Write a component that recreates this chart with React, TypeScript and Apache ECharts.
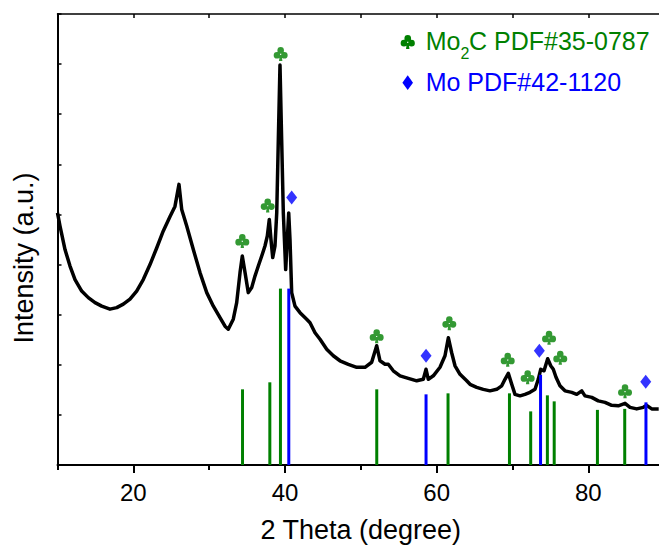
import React, { useEffect, useRef } from "react";
import * as echarts from "echarts";

// ---- data ----
const twoTheta = [
  10.0, 10.33, 10.99, 11.65, 12.31, 13.19, 14.06, 14.95, 15.83, 16.92, 17.81, 18.68, 19.56, 20.44,
  21.31, 22.2, 23.08, 23.95, 24.84, 25.49, 26.02, 26.38, 27.04, 27.91, 28.79, 29.68, 30.55, 31.43,
  32.09, 32.52, 33.18, 33.63, 34.07, 34.37, 34.73, 35.16, 35.61, 36.04, 36.48, 36.93, 37.36, 37.67,
  37.93, 38.15, 38.38, 38.68, 38.91, 39.12, 39.34, 39.56, 39.78, 40.09, 40.3, 40.49, 40.66, 40.88,
  41.32, 41.98, 42.86, 43.3, 43.96, 44.62, 45.5, 46.37, 47.25, 48.35, 49.46, 50.55, 51.43, 52.09,
  52.53, 53.19, 53.62, 54.28, 55.17, 56.26, 57.37, 58.24, 58.6, 58.9, 59.56, 60.44, 61.1, 61.54,
  61.98, 62.42, 63.08, 63.96, 64.4, 65.28, 66.15, 67.03, 67.92, 68.58, 69.01, 69.45, 69.9, 70.33,
  70.99, 71.65, 72.31, 72.97, 73.4, 73.72, 74.16, 74.64, 75.04, 75.38, 75.74, 76.26, 76.92, 77.81,
  78.47, 79.13, 79.56, 80.45, 81.31, 82.2, 83.08, 83.95, 84.84, 85.5, 86.38, 87.25, 87.69, 88.36,
  89.28,
];
const intensity = [
  5.03, 4.77, 4.3, 3.97, 3.7, 3.47, 3.34, 3.24, 3.17, 3.11, 3.14, 3.21, 3.31, 3.47,
  3.7, 4.0, 4.33, 4.67, 4.96, 5.16, 5.6, 5.1, 4.77, 4.3, 3.84, 3.44, 3.17, 2.94,
  2.77, 2.71, 2.91, 3.24, 3.84, 4.17, 3.84, 3.44, 3.54, 3.77, 3.97, 4.17, 4.37, 4.57,
  4.9, 4.5, 4.14, 4.37, 5.03, 6.49, 7.98, 6.49, 5.03, 3.9, 4.5, 5.03, 4.5, 3.44,
  3.17, 3.04, 2.91, 2.84, 2.64, 2.51, 2.31, 2.18, 2.08, 2.01, 1.95, 1.95, 2.05, 2.38,
  2.08, 2.01, 2.01, 1.88, 1.78, 1.73, 1.68, 1.71, 1.91, 1.71, 1.78, 1.95, 2.18, 2.54,
  2.24, 1.98, 1.81, 1.68, 1.61, 1.55, 1.51, 1.48, 1.51, 1.58, 1.71, 1.83, 1.61, 1.41,
  1.38, 1.41, 1.45, 1.51, 1.71, 1.91, 1.88, 2.12, 1.98, 1.91, 1.75, 1.58, 1.48, 1.45,
  1.41, 1.48, 1.38, 1.35, 1.28, 1.25, 1.19, 1.18, 1.23, 1.15, 1.12, 1.15, 1.19, 1.12,
  1.12,
];

// reference sticks (PDF cards)
const mo2cPos = [34.4, 38.0, 39.4, 52.1, 61.5, 69.6, 72.4, 74.6, 75.5, 81.2, 84.8];
const mo2cRel = [1.51, 1.65, 3.52, 1.51, 1.43, 1.43, 1.07, 1.39, 1.27, 1.1, 1.12];
const moPos = [40.5, 58.6, 73.7, 87.6];
const moRel = [3.52, 1.41, 1.8, 1.25];

// peak markers
const clubX = [34.37, 37.72, 39.43, 52.09, 61.67, 69.37, 72.0, 74.82, 76.3, 84.84];
const clubY = [4.47, 5.18, 8.2, 2.57, 2.83, 2.1, 1.75, 2.54, 2.14, 1.47];
const diamondX = [40.88, 58.6, 73.54, 87.57];
const diamondY = [5.34, 2.18, 2.28, 1.66];

// axis range (the reference is cropped at the right, just before 90)
const xMin = 10;
const xMax = 89.32;
const yMin = 0;
const yMax = 9;
const xMajorTicks = [20, 40, 60, 80];
const xMinorTicks = [10, 30, 50, 70];
const xTopTicks = [20, 30, 40, 50, 60, 70, 80];

const xTitle = "2 Theta (degree)";
const yTitle = "Intensity (a.u.)";
const legendMo2C = ["Mo", "2", "C PDF#35-0787"];
const legendMo = "Mo PDF#42-1120";

// ---- styles ----
const FONT = "'Liberation Sans', Arial, sans-serif";
const GREEN = "#008000";
const BLUE = "#0000ff";
const CLUB_D =
  "M27,27 A23,23 0 1,0 73,27 A23,23 0 1,0 27,27 Z " +
  "M1,60 A23,23 0 1,0 47,60 A23,23 0 1,0 1,60 Z " +
  "M53,60 A23,23 0 1,0 99,60 A23,23 0 1,0 53,60 Z " +
  "M44,58 L38,100 L62,100 L56,58 Z";
const DIAMOND_D = "M50,0 L0,50 L50,100 L100,50 Z";

let registered = false;
function registerShapes() {
  if (registered) return;
  echarts.graphic.registerShape("club", echarts.graphic.extendPath(CLUB_D, {}));
  registered = true;
}

function stickSeries(pos: number[], rel: number[], color: string) {
  return {
    type: "custom",
    xAxisIndex: 0,
    yAxisIndex: 0,
    z: 5,
    data: pos.map((p, i) => [p, rel[i]]),
    encode: { x: 0, y: 1 },
    renderItem: (_params: any, api: any) => {
      const a = api.coord([api.value(0), 0]);
      const b = api.coord([api.value(0), api.value(1)]);
      return {
        type: "line",
        shape: { x1: a[0], y1: a[1], x2: b[0], y2: b[1] },
        style: { stroke: color, lineWidth: 3 },
      };
    },
  };
}

export default function App() {
  const ref = useRef<HTMLDivElement>(null);
  useEffect(() => {
    if (!ref.current) return;
    registerShapes();
    const chart = echarts.init(ref.current, undefined, { renderer: "svg" });
    const textBase = { fontFamily: FONT, color: "#000" };
    chart.setOption({
      animation: false,
      backgroundColor: "#fff",
      grid: { left: 57.5, top: 14, right: 0, bottom: 82, containLabel: false },
      xAxis: [
        {
          type: "value",
          min: xMin,
          max: xMax,
          interval: 10,
          position: "bottom",
          axisLine: { show: true, onZero: false, lineStyle: { color: "#000", width: 2 } },
          axisTick: {
            show: true,
            length: 8,
            customValues: xMajorTicks,
            lineStyle: { color: "#000", width: 2 },
          },
          axisLabel: {
            show: true,
            customValues: xMajorTicks,
            fontSize: 24,
            margin: 15,
            ...textBase,
          },
          splitLine: { show: false },
          name: xTitle,
          nameLocation: "middle",
          nameGap: 51,
          nameTextStyle: { fontSize: 27, padding: [0, 0, 0, 5], ...textBase },
        },
        {
          type: "value",
          min: xMin,
          max: xMax,
          interval: 10,
          position: "bottom",
          axisLine: { show: false },
          axisTick: {
            show: true,
            length: 5,
            customValues: xMinorTicks,
            lineStyle: { color: "#000", width: 2 },
          },
          axisLabel: { show: false },
          splitLine: { show: false },
        },
        {
          type: "value",
          min: xMin,
          max: xMax,
          interval: 10,
          position: "top",
          axisLine: { show: true, onZero: false, lineStyle: { color: "#000", width: 1.5 } },
          axisTick: {
            show: true,
            inside: true,
            length: 4,
            customValues: xTopTicks,
            lineStyle: { color: "#000", width: 1.5 },
          },
          axisLabel: { show: false },
          splitLine: { show: false },
        },
      ],
      yAxis: [
        {
          type: "value",
          min: yMin,
          max: yMax,
          interval: 1,
          position: "left",
          axisLine: { show: true, onZero: false, lineStyle: { color: "#000", width: 2 } },
          axisTick: { show: true, inside: true, length: 4, lineStyle: { color: "#000", width: 1.5 } },
          axisLabel: { show: false },
          splitLine: { show: false },
        },
      ],
      series: [
        {
          type: "line",
          xAxisIndex: 0,
          yAxisIndex: 0,
          z: 3,
          symbol: "none",
          data: twoTheta.map((t, i) => [t, intensity[i]]),
          lineStyle: { color: "#000", width: 3.5, join: "round" },
        },
        stickSeries(mo2cPos, mo2cRel, GREEN),
        stickSeries(moPos, moRel, BLUE),
        {
          type: "scatter",
          xAxisIndex: 0,
          yAxisIndex: 0,
          z: 6,
          symbol: "path://" + CLUB_D,
          symbolSize: [14, 14],
          itemStyle: { color: GREEN },
          data: clubX.map((x, i) => [x, clubY[i]]),
        },
        {
          type: "scatter",
          xAxisIndex: 0,
          yAxisIndex: 0,
          z: 6,
          symbol: "path://" + DIAMOND_D,
          symbolSize: [11, 14],
          itemStyle: { color: BLUE },
          data: diamondX.map((x, i) => [x, diamondY[i]]),
        },
      ],
      graphic: [
        {
          type: "text",
          x: 24,
          y: 258,
          rotation: Math.PI / 2,
          style: {
            text: yTitle,
            fontSize: 27,
            fontFamily: FONT,
            fill: "#000",
            textAlign: "center",
            textVerticalAlign: "middle",
          },
        },
        {
          type: "club",
          x: 400.5,
          y: 34.5,
          scaleX: 0.145,
          scaleY: 0.145,
          style: { fill: GREEN },
        },
        {
          type: "polygon",
          shape: { points: [[407.7, 75.3], [402.4, 82.7], [407.7, 90.1], [413, 82.7]] },
          style: { fill: BLUE },
        },
        {
          type: "text",
          x: 425.7,
          y: 41,
          style: { text: legendMo2C[0], fontSize: 25, fontFamily: FONT, fill: GREEN, textVerticalAlign: "middle" },
        },
        {
          type: "text",
          x: 460.5,
          y: 53.5,
          style: { text: legendMo2C[1], fontSize: 16, fontFamily: FONT, fill: GREEN, textVerticalAlign: "middle" },
        },
        {
          type: "text",
          x: 469,
          y: 41,
          style: { text: legendMo2C[2], fontSize: 25, fontFamily: FONT, fill: GREEN, textVerticalAlign: "middle" },
        },
        {
          type: "text",
          x: 425.7,
          y: 82,
          style: { text: legendMo, fontSize: 25, fontFamily: FONT, fill: BLUE, textVerticalAlign: "middle" },
        },
      ],
    });
    return () => chart.dispose();
  }, []);
  return (
    <div
      ref={ref}
      style={{ position: "absolute", left: 0, top: 0, width: 659, height: 548, overflow: "hidden" }}
    />
  );
}
